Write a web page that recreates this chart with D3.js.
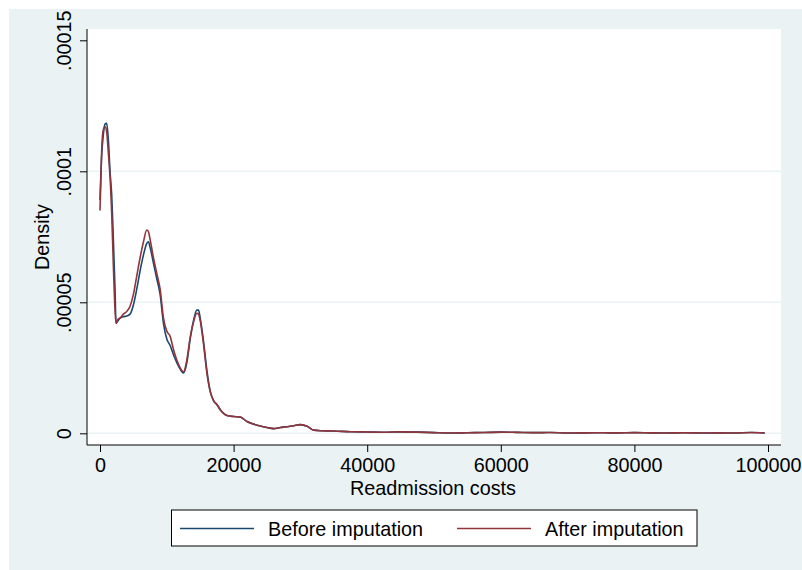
<!DOCTYPE html>
<html>
<head>
<meta charset="utf-8">
<script src="https://cdn.jsdelivr.net/npm/d3@7"></script>
<style>
	body { margin: 0; background: #fff; }
	svg text { font-family: "Liberation Sans", Arial, sans-serif; fill: #000; }
</style>
</head>
<body>
<div id="chart"></div>
<script>
// ---------- DATA ----------
// readmission cost grid (x) and kernel density (in 1e-6 units)
const costs = [
	0, 250, 500, 750, 1000, 1250, 1500, 1750, 2000, 2250, 2400, 2700, 3000, 3500,
	4000, 4500, 5000, 5500, 6000, 6500, 7000, 7250, 7500, 8000, 8500, 9000, 9500,
	10000, 10500, 11000, 11500, 12000, 12500, 13000, 13500, 14000, 14500, 14750,
	15000, 15500, 16000, 16500, 17000, 17500, 18000, 18500, 19000, 20000, 21000,
	22000, 23000, 24000, 25000, 26000, 27000, 28000, 29000, 30000, 31000, 32000,
	33000, 35000, 37500, 40000, 42500, 45000, 47500, 50000, 52500, 55000, 57500,
	60000, 62500, 65000, 67500, 70000, 72500, 75000, 77500, 80000, 82500, 85000,
	87500, 90000, 92500, 95000, 97500, 99500,
];
const beforeDensity = [
	89, 106, 114, 118, 118.3, 112, 100, 91, 74, 55, 42, 43, 44, 44.5,
	44.8, 45.5, 49, 55, 62, 68, 72.5, 73.1, 71, 65, 59, 53, 42,
	36, 33.5, 30, 27, 24.5, 23, 27, 36, 43, 47, 47,
	44, 35, 24, 16, 12.5, 11, 9, 7.6, 6.8, 6.4, 6.2,
	4.5, 3.5, 2.8, 2.2, 1.8, 2.2, 2.5, 2.9, 3.3, 2.7, 1.2,
	1.0, 0.9, 0.6, 0.5, 0.4, 0.55, 0.45, 0.25, 0.1, 0.2, 0.3,
	0.45, 0.35, 0.25, 0.3, 0.1, 0.15, 0.2, 0.15, 0.25, 0.15, 0.1,
	0.2, 0.1, 0.15, 0.1, 0.3, 0.1,
];
const afterDensity = [
	85, 108, 116, 117, 115, 107, 98, 84, 64, 47, 42, 43.5, 44, 45.5,
	46.5, 48.5, 53, 60, 67, 73, 77.6, 77, 74, 67, 61, 55, 44,
	39, 37, 32, 28, 25, 23.5, 28, 36.5, 42.5, 45.8, 45.5,
	43, 34, 23, 16, 12.5, 11, 9, 7.6, 6.8, 6.4, 6.2,
	4.5, 3.5, 2.8, 2.2, 1.8, 2.2, 2.5, 2.9, 3.3, 2.7, 1.2,
	1.0, 0.9, 0.6, 0.5, 0.4, 0.55, 0.45, 0.25, 0.1, 0.2, 0.3,
	0.45, 0.35, 0.25, 0.3, 0.1, 0.15, 0.2, 0.15, 0.25, 0.15, 0.1,
	0.2, 0.1, 0.15, 0.1, 0.3, 0.1,
];
const xTicks = [0, 20000, 40000, 60000, 80000, 100000];
const yTicks = [0, 0.00005, 0.0001, 0.00015];
const yTickLabels = ["0", ".00005", ".0001", ".00015"];
const seriesNames = ["Before imputation", "After imputation"];

const colorDef = {
	bg: "#eaf2f3",
	grid: "#eaf2f3",
	navy: "#1a476f",
	maroon: "#90353b",
};

// ---------- CHART ----------
const size = { w: 802, h: 570 };
const plot = { left: 87, right: 781, top: 29, bottom: 445 };
const fontSize = 19.8;

const svg = d3
	.select("#chart")
	.append("svg")
	.attr("width", size.w)
	.attr("height", size.h);

svg.append("rect")
	.attr("x", 9).attr("y", 9)
	.attr("width", size.w - 9).attr("height", size.h - 9)
	.attr("fill", colorDef.bg);

svg.append("rect")
	.attr("x", plot.left).attr("y", plot.top)
	.attr("width", plot.right - plot.left)
	.attr("height", plot.bottom - plot.top)
	.attr("fill", "#fff");

const xScale = d3.scaleLinear().domain([0, 100000]).range([100, 768]);
const yScale = d3.scaleLinear().domain([0, 0.00015]).range([433.3, 40.3]);

// gridlines
svg.append("g")
	.selectAll("line")
	.data(yTicks.slice(0, 3))
	.join("line")
	.attr("x1", plot.left + 1).attr("x2", plot.right)
	.attr("y1", (d) => yScale(d)).attr("y2", (d) => yScale(d))
	.attr("stroke", colorDef.grid)
	.attr("stroke-width", 1.5);

// y axis
const yAxis = svg.append("g")
	.attr("transform", `translate(${plot.left}, 0)`)
	.call(d3.axisLeft(yScale).tickValues(yTicks).tickSize(7).tickFormat((d, i) => yTickLabels[i]));
yAxis.select(".domain").attr("d", `M0,${plot.top}V${plot.bottom}`).attr("stroke", "#000");
yAxis.selectAll(".tick line").attr("stroke", "#000");
yAxis.selectAll(".tick text")
	.attr("font-size", fontSize)
	.attr("x", null).attr("dy", null)
	.attr("text-anchor", "middle")
	.attr("transform", "translate(-16, 0) rotate(-90)");

// x axis
const xAxis = svg.append("g")
	.attr("transform", `translate(0, ${plot.bottom})`)
	.call(d3.axisBottom(xScale).tickValues(xTicks).tickSize(7).tickFormat(d3.format("d")));
xAxis.select(".domain").attr("d", `M${plot.left},0H${plot.right}`).attr("stroke", "#000");
xAxis.selectAll(".tick line").attr("stroke", "#000");
xAxis.selectAll(".tick text").attr("font-size", fontSize).attr("y", 13).attr("dy", "0.71em");

// axis titles
svg.append("text")
	.attr("x", 433).attr("y", 495)
	.attr("text-anchor", "middle")
	.attr("font-size", fontSize)
	.text("Readmission costs");
svg.append("text")
	.attr("transform", "translate(49, 237) rotate(-90)")
	.attr("text-anchor", "middle")
	.attr("font-size", fontSize)
	.text("Density");

// lines
const line = d3.line()
	.x((d) => xScale(d[0]))
	.y((d) => yScale(d[1] * 1e-6))
	.curve(d3.curveMonotoneX);

const series = [
	{ name: seriesNames[0], values: beforeDensity, color: colorDef.navy },
	{ name: seriesNames[1], values: afterDensity, color: colorDef.maroon },
];

svg.append("g")
	.selectAll("path")
	.data(series)
	.join("path")
	.attr("d", (s) => line(costs.map((c, i) => [c, s.values[i]])))
	.attr("fill", "none")
	.attr("stroke", (s) => s.color)
	.attr("stroke-width", 1.6)
	.attr("stroke-linejoin", "round");

// legend
const legend = svg.append("g");
legend.append("rect")
	.attr("x", 171.5).attr("y", 510)
	.attr("width", 525.5).attr("height", 36)
	.attr("fill", "#fff")
	.attr("stroke", "#000");
const legendX = [180, 457];
series.forEach((s, i) => {
	legend.append("line")
		.attr("x1", legendX[i]).attr("x2", legendX[i] + 74)
		.attr("y1", 528.5).attr("y2", 528.5)
		.attr("stroke", s.color)
		.attr("stroke-width", 1.6);
	legend.append("text")
		.attr("x", legendX[i] + 88).attr("y", 535.5)
		.attr("font-size", fontSize)
		.text(s.name);
});
</script>
</body>
</html>
